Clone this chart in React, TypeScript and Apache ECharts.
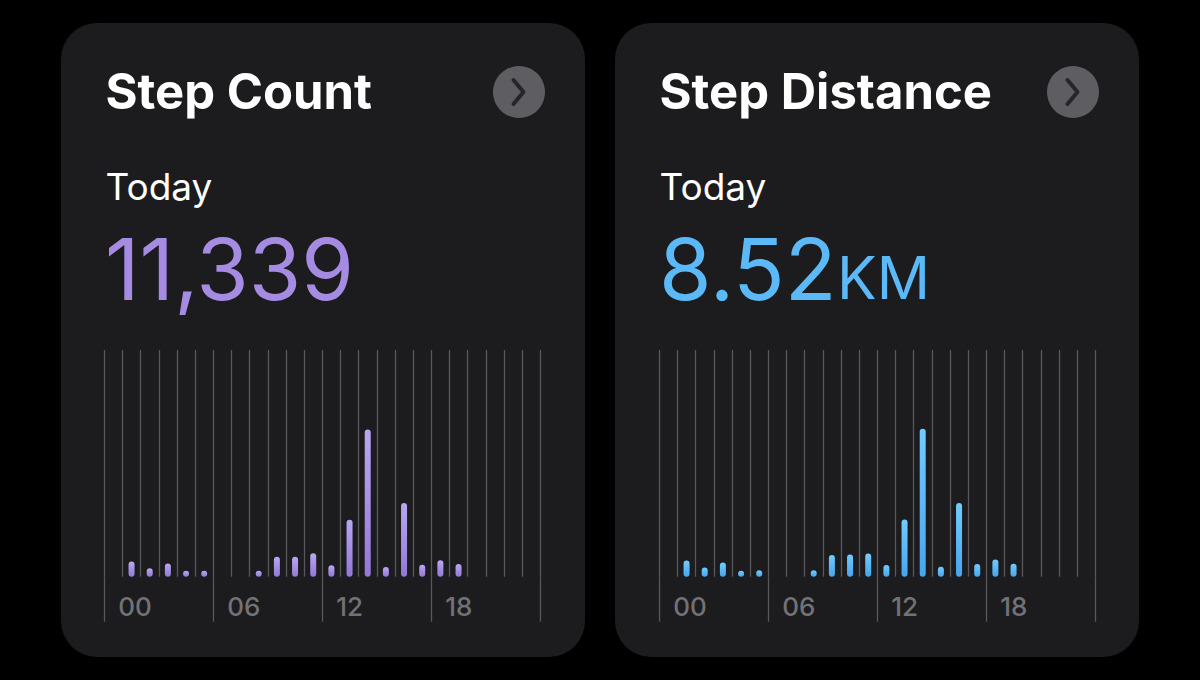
import { useEffect, useRef } from "react";
import * as echarts from "echarts";

// ---- data ----
const hourCategories = [
  "00", "01", "02", "03", "04", "05", "06", "07", "08", "09", "10", "11",
  "12", "13", "14", "15", "16", "17", "18", "19", "20", "21", "22", "23",
];
const stepCounts = [0, 380, 210, 330, 90, 110, 0, 0, 110, 500, 500, 590, 285, 1434, 3700, 245, 1850, 300, 415, 320, 0, 0, 0, 0];
const stepDistanceKm = [0, 0.3, 0.17, 0.265, 0.1, 0.12, 0, 0, 0.12, 0.4, 0.41, 0.43, 0.215, 1.06, 2.74, 0.185, 1.365, 0.235, 0.32, 0.24, 0, 0, 0, 0];
const tickLabels = ["00", "06", "12", "18"];
const cardTitles = ["Step Count", "Step Distance"];
const periodLabel = "Today";
const totalValues = ["11,339", "8.52"];
const distanceUnit = "KM";
const axisMaxima = [5700, 4.2];

const FONT = "Inter, 'Noto Sans', sans-serif";

export default function App() {
  const ref = useRef<HTMLDivElement>(null);

  useEffect(() => {
    if (!ref.current) return;
    const chart = echarts.init(ref.current, undefined, { renderer: "svg" });

    const cardX = [61, 615];
    const cardY = 23;
    const cardW = 524;
    const cardH = 634;
    const gridLeft = [104.3, 659.3];
    const gridTop = 350;
    const gridW = 436;
    const gridH = 226.7;
    const lineColor = "#58585c";

    const accent = [
      { text: "#a58be2", top: "#b9a7f2", bottom: "#9278d8" },
      { text: "#5ab9f6", top: "#72ccff", bottom: "#46a5ee" },
    ];
    const seriesData = [stepCounts, stepDistanceKm];

    const graphics: any[] = [];
    for (let i = 0; i < 2; i++) {
      const cx = cardX[i];
      graphics.push({
        type: "rect",
        z: -10,
        shape: { x: cx, y: cardY, width: cardW, height: cardH, r: 36 },
        style: { fill: "#1c1c1e" },
        silent: true,
      });
      graphics.push({
        type: "text",
        z: 100,
        x: cx + 44.5,
        y: 91,
        style: {
          text: cardTitles[i],
          fill: "#ffffff",
          font: `700 49px ${FONT}`,
          verticalAlign: "middle",
          align: "left",
        },
      });
      graphics.push({
        type: "text",
        z: 100,
        x: cx + 44.5,
        y: 186,
        style: {
          text: periodLabel,
          fill: "#ffffff",
          font: `400 37px ${FONT}`,
          verticalAlign: "middle",
          align: "left",
        },
      });
      graphics.push({
        type: "text",
        z: 100,
        x: cx + 44,
        y: 269,
        style: {
          text: totalValues[i],
          fill: accent[i].text,
          font: `400 85px ${FONT}`,
          verticalAlign: "middle",
          align: "left",
        },
      });
      if (i === 1) {
        graphics.push({
          type: "text",
          z: 100,
          x: cx + 222,
          y: 277,
          style: {
            text: distanceUnit,
            fill: accent[i].text,
            font: `400 59px ${FONT}`,
            verticalAlign: "middle",
            align: "left",
          },
        });
      }
      // chevron button
      graphics.push({
        type: "circle",
        z: 100,
        shape: { cx: cx + 458, cy: 92, r: 26 },
        style: { fill: "#5e5e62" },
      });
      graphics.push({
        type: "polyline",
        z: 101,
        shape: {
          points: [
            [cx + 452.5, 80],
            [cx + 462.5, 92],
            [cx + 452.5, 104],
          ],
        },
        style: {
          stroke: "#26262a",
          lineWidth: 4,
          lineCap: "round",
          lineJoin: "round",
          fill: "none",
        },
      });
    }

    const grid = [0, 1].map((i) => ({
      left: gridLeft[i],
      top: gridTop,
      width: gridW,
      height: gridH,
      containLabel: false,
    }));

    const xAxis: any[] = [];
    const yAxis: any[] = [];
    const series: any[] = [];
    for (let i = 0; i < 2; i++) {
      xAxis.push({
        type: "category",
        gridIndex: i,
        data: hourCategories,
        boundaryGap: true,
        position: "bottom",
        axisLine: { show: false },
        axisTick: { show: false },
        axisLabel: { show: false },
        splitLine: { show: true, interval: 0, lineStyle: { color: lineColor, width: 1.3 } },
      });
      xAxis.push({
        type: "value",
        gridIndex: i,
        min: 0,
        max: 24,
        interval: 6,
        position: "bottom",
        axisLine: { show: false },
        axisTick: { show: true, length: 45, lineStyle: { color: lineColor, width: 1.3 } },
        splitLine: { show: false },
        axisLabel: {
          show: true,
          margin: 30,
          align: "left",
          verticalAlign: "middle",
          padding: [0, 0, 0, 14],
          color: "#727276",
          fontSize: 26,
          fontFamily: FONT,
          fontWeight: 500,
          formatter: (v: number) => {
            const idx = Math.round(v / 6);
            return idx < tickLabels.length ? tickLabels[idx] : "";
          },
        },
      });
      yAxis.push({
        type: "value",
        gridIndex: i,
        min: 0,
        max: axisMaxima[i],
        show: false,
        splitLine: { show: false },
      });
      series.push({
        type: "bar",
        xAxisIndex: i * 2,
        yAxisIndex: i,
        data: seriesData[i].map((v) => (v > 0 ? v : "-")),
        barWidth: 6,
        barMinHeight: 6,
        itemStyle: {
          borderRadius: 3,
          color: new echarts.graphic.LinearGradient(0, 0, 0, 1, [
            { offset: 0, color: accent[i].top },
            { offset: 1, color: accent[i].bottom },
          ]),
        },
        z: 5,
      });
    }

    chart.setOption({
      animation: false,
      backgroundColor: "#000000",
      grid,
      xAxis,
      yAxis,
      series,
      graphic: { elements: graphics },
    });

    return () => chart.dispose();
  }, []);

  return (
    <div
      ref={ref}
      style={{ position: "fixed", left: 0, top: 0, width: 1200, height: 680 }}
    />
  );
}
